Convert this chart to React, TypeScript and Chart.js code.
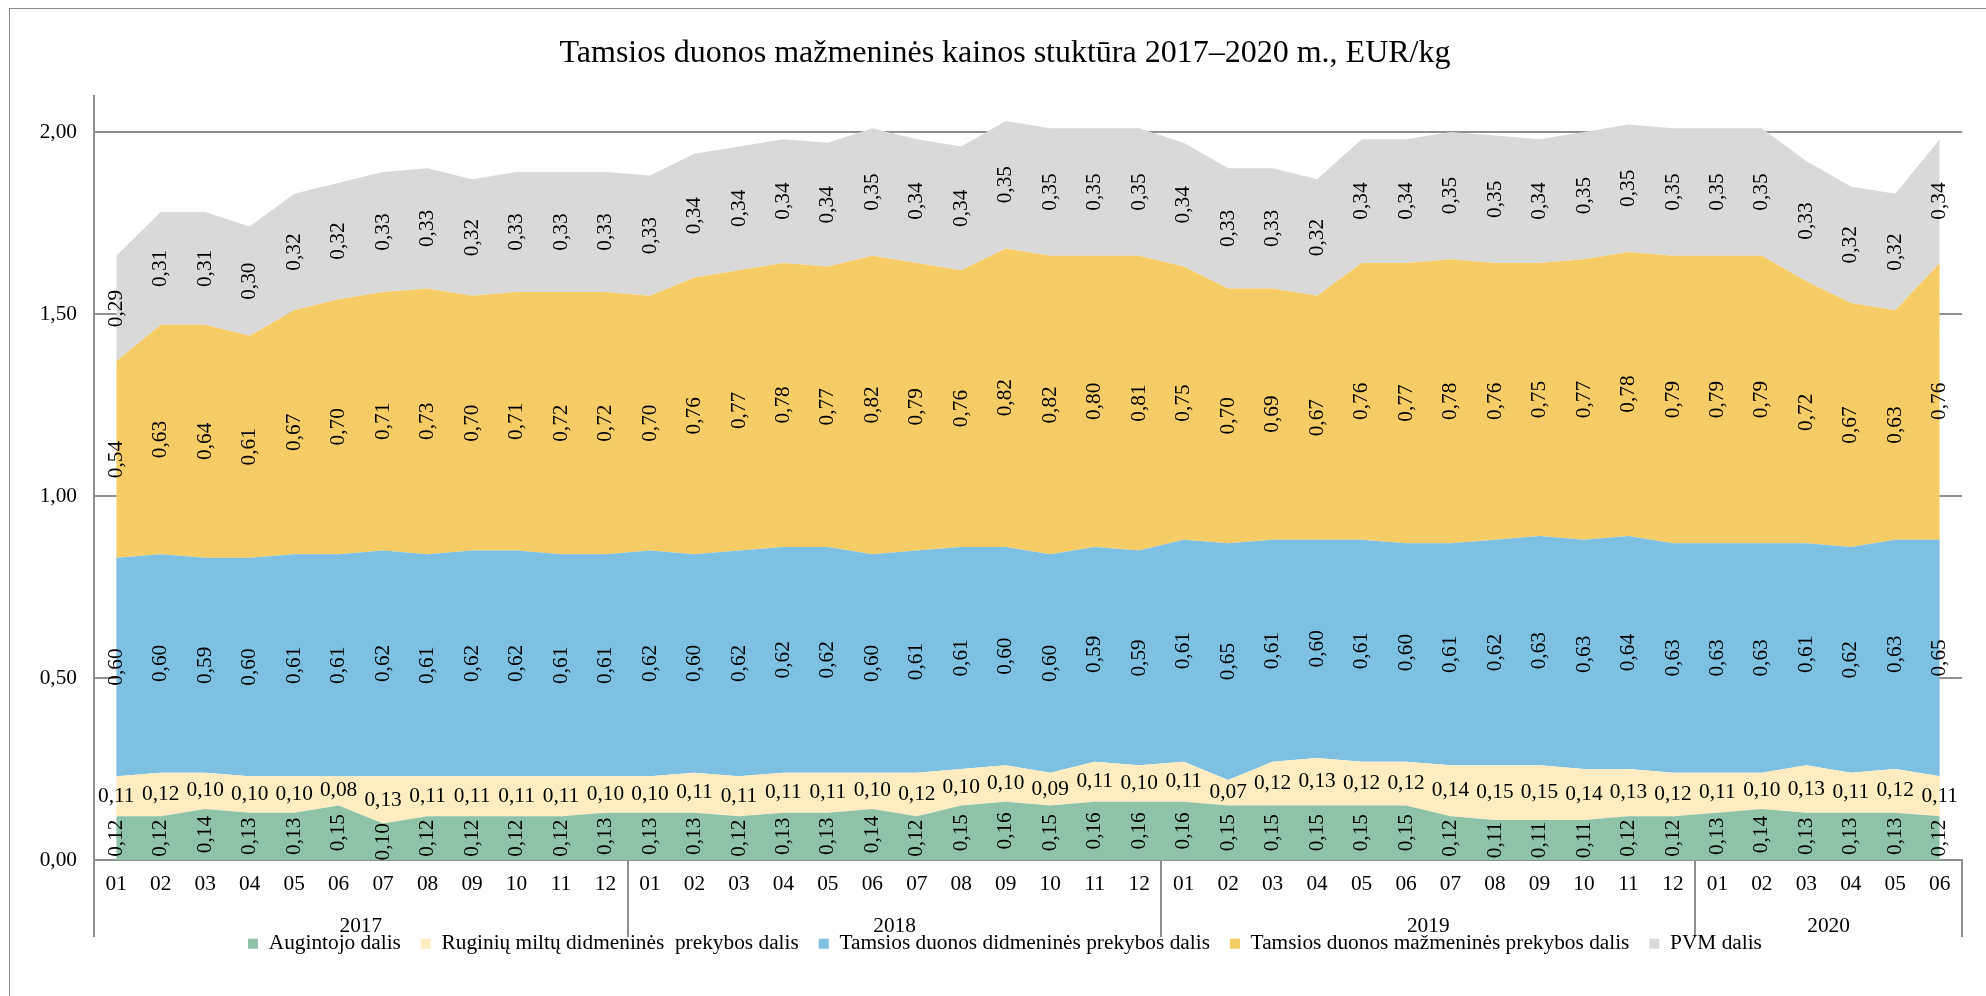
import React, { useEffect, useRef } from 'react';
import { Chart, registerables } from 'chart.js';

Chart.register(...registerables);

// ---------- data ----------
const chartTitle = 'Tamsios duonos mažmeninės kainos stuktūra 2017–2020 m., EUR/kg';
const years = ['2017', '2018', '2019', '2020'];
const monthsPerYear = [12, 12, 12, 6];
const monthNames = ['01', '02', '03', '04', '05', '06', '07', '08', '09', '10', '11', '12'];

const augintojo = [
  0.12, 0.12, 0.14, 0.13, 0.13, 0.15, 0.10, 0.12, 0.12, 0.12, 0.12, 0.13,
  0.13, 0.13, 0.12, 0.13, 0.13, 0.14, 0.12, 0.15, 0.16, 0.15, 0.16, 0.16,
  0.16, 0.15, 0.15, 0.15, 0.15, 0.15, 0.12, 0.11, 0.11, 0.11, 0.12, 0.12,
  0.13, 0.14, 0.13, 0.13, 0.13, 0.12,
];
const ruginiuMiltu = [
  0.11, 0.12, 0.10, 0.10, 0.10, 0.08, 0.13, 0.11, 0.11, 0.11, 0.11, 0.10,
  0.10, 0.11, 0.11, 0.11, 0.11, 0.10, 0.12, 0.10, 0.10, 0.09, 0.11, 0.10,
  0.11, 0.07, 0.12, 0.13, 0.12, 0.12, 0.14, 0.15, 0.15, 0.14, 0.13, 0.12,
  0.11, 0.10, 0.13, 0.11, 0.12, 0.11,
];
const duonosDidmenines = [
  0.60, 0.60, 0.59, 0.60, 0.61, 0.61, 0.62, 0.61, 0.62, 0.62, 0.61, 0.61,
  0.62, 0.60, 0.62, 0.62, 0.62, 0.60, 0.61, 0.61, 0.60, 0.60, 0.59, 0.59,
  0.61, 0.65, 0.61, 0.60, 0.61, 0.60, 0.61, 0.62, 0.63, 0.63, 0.64, 0.63,
  0.63, 0.63, 0.61, 0.62, 0.63, 0.65,
];
const duonosMazmenines = [
  0.54, 0.63, 0.64, 0.61, 0.67, 0.70, 0.71, 0.73, 0.70, 0.71, 0.72, 0.72,
  0.70, 0.76, 0.77, 0.78, 0.77, 0.82, 0.79, 0.76, 0.82, 0.82, 0.80, 0.81,
  0.75, 0.70, 0.69, 0.67, 0.76, 0.77, 0.78, 0.76, 0.75, 0.77, 0.78, 0.79,
  0.79, 0.79, 0.72, 0.67, 0.63, 0.76,
];
const pvm = [
  0.29, 0.31, 0.31, 0.30, 0.32, 0.32, 0.33, 0.33, 0.32, 0.33, 0.33, 0.33,
  0.33, 0.34, 0.34, 0.34, 0.34, 0.35, 0.34, 0.34, 0.35, 0.35, 0.35, 0.35,
  0.34, 0.33, 0.33, 0.32, 0.34, 0.34, 0.35, 0.35, 0.34, 0.35, 0.35, 0.35,
  0.35, 0.35, 0.33, 0.32, 0.32, 0.34,
];

const seriesNames = [
  'Augintojo dalis',
  'Ruginių miltų didmeninės  prekybos dalis',
  'Tamsios duonos didmeninės prekybos dalis',
  'Tamsios duonos mažmeninės prekybos dalis',
  'PVM dalis',
];
const seriesValues = [augintojo, ruginiuMiltu, duonosDidmenines, duonosMazmenines, pvm];
const seriesColors = ['#8EC3A7', '#FFEDC1', '#7EC0E2', '#F5CC66', '#D9D9D9'];
const horizontalLabelSeries = [1];

const yTickValues = [0, 0.5, 1, 1.5, 2];
const yMax = 2.1;

// ---------- derived ----------
const categories: string[] = [];
const yearBoundaries: number[] = [0];
monthsPerYear.forEach((n) => {
  for (let m = 0; m < n; m++) categories.push(monthNames[m]);
  yearBoundaries.push(yearBoundaries[yearBoundaries.length - 1] + n);
});

const FONT = "'Liberation Serif', 'Times New Roman', serif";
const FS = 21.33;
const GRID = '#8f8f8f';
const fmt = (v: number) => v.toFixed(2).replace('.', ',');

const labelPlugin = {
  id: 'areaValueLabels',
  afterDatasetsDraw(chart: any) {
    const ctx = chart.ctx;
    const yScale = chart.scales.y;
    ctx.save();
    ctx.font = `${FS}px ${FONT}`;
    ctx.fillStyle = '#000';
    ctx.textAlign = 'center';
    ctx.textBaseline = 'middle';
    chart.data.datasets.forEach((ds: any, d: number) => {
      const meta = chart.getDatasetMeta(d);
      const prev = d > 0 ? chart.getDatasetMeta(d - 1) : null;
      meta.data.forEach((pt: any, i: number) => {
        const top = pt.y;
        const bottom = prev ? prev.data[i].y : yScale.getPixelForValue(0);
        const mid = (top + bottom) / 2;
        ctx.save();
        ctx.translate(pt.x, mid);
        if (!horizontalLabelSeries.includes(d)) ctx.rotate(-Math.PI / 2);
        ctx.fillText(fmt(ds.data[i]), 0, 0);
        ctx.restore();
      });
    });
    ctx.restore();
  },
  afterDraw(chart: any) {
    const ctx = chart.ctx;
    const xScale = chart.scales.x;
    ctx.save();
    ctx.font = `${FS}px ${FONT}`;
    ctx.fillStyle = '#000';
    ctx.textAlign = 'center';
    ctx.textBaseline = 'middle';
    years.forEach((yr, k) => {
      const first = yearBoundaries[k];
      const last = yearBoundaries[k + 1] - 1;
      const cx = (xScale.getPixelForTick(first) + xScale.getPixelForTick(last)) / 2;
      ctx.fillText(yr, cx, chart.chartArea.bottom + 66);
    });
    ctx.restore();
  },
};

export default function App() {
  const canvasRef = useRef<HTMLCanvasElement>(null);

  useEffect(() => {
    document.documentElement.style.overflow = 'hidden';
    document.body.style.overflow = 'hidden';
    Chart.defaults.font.family = FONT;
    const canvas = canvasRef.current;
    if (!canvas) return;

    const gridColorFn = (c: any) =>
      c.type !== 'tick' || yearBoundaries.includes(c.index) ? GRID : 'rgba(0,0,0,0)';

    const chart = new Chart(canvas, {
      type: 'line',
      data: {
        labels: categories,
        datasets: seriesNames.map((name, d) => ({
          label: name,
          data: seriesValues[d],
          backgroundColor: seriesColors[d],
          borderColor: seriesColors[d],
          borderWidth: 0,
          pointRadius: 0,
          pointHoverRadius: 0,
          tension: 0,
          fill: d === 0 ? 'origin' : '-1',
        })),
      },
      options: {
        responsive: false,
        animation: false,
        devicePixelRatio: 1,
        events: [],
        layout: { padding: { left: 0, right: 0, top: 0, bottom: 44.67 } },
        plugins: {
          tooltip: { enabled: false },
          title: {
            display: true,
            text: chartTitle,
            color: '#000',
            font: { family: FONT, size: 32, weight: 'normal' },
            padding: { top: 25.3, bottom: 22.8 },
          },
          legend: {
            display: true,
            position: 'bottom',
            labels: {
              color: '#000',
              font: { family: FONT, size: FS },
              boxWidth: 10,
              boxHeight: 10,
              padding: 20,
            },
          },
        },
        scales: {
          x: {
            type: 'category',
            offset: true,
            grid: {
              offset: true,
              drawOnChartArea: false,
              drawTicks: true,
              tickLength: 77,
              color: gridColorFn,
              tickColor: gridColorFn,
              lineWidth: 2,
              tickWidth: 2,
            },
            border: { display: true, color: GRID, width: 2 },
            ticks: {
              color: '#000',
              font: { family: FONT, size: FS },
              padding: -65,
              autoSkip: false,
              maxRotation: 0,
              minRotation: 0,
            },
            afterFit: (scale: any) => {
              scale.height = 53;
            },
          },
          y: {
            type: 'linear',
            stacked: true,
            min: 0,
            max: yMax,
            grid: { color: GRID, lineWidth: 2, drawTicks: false },
            border: { display: true, color: GRID, width: 2 },
            ticks: {
              stepSize: 0.5,
              color: '#000',
              font: { family: FONT, size: FS },
              padding: 17,
              callback: (v: any) => fmt(Number(v)),
            },
            afterBuildTicks: (scale: any) => {
              scale.ticks = yTickValues.map((v) => ({ value: v }));
            },
            afterFit: (scale: any) => {
              scale.width = 84;
            },
          },
          // empty right-hand spacer axis: keeps the plot's right margin
          // while title and legend stay centred on the whole chart
          ySpacer: {
            type: 'linear',
            position: 'right',
            display: true,
            grid: { display: false, drawTicks: false },
            border: { display: false },
            ticks: { display: false },
            afterFit: (scale: any) => {
              scale.width = 38;
            },
          },
        },
      },
      plugins: [labelPlugin],
    } as any);

    return () => chart.destroy();
  }, []);

  return (
    <div
      style={{
        position: 'fixed',
        left: 9,
        top: 8,
        width: 1990,
        height: 1000,
        border: '1px solid #8c8c8c',
        background: '#fff',
      }}
    >
      <canvas ref={canvasRef} width={1990} height={1000} style={{ display: 'block' }} />
    </div>
  );
}
